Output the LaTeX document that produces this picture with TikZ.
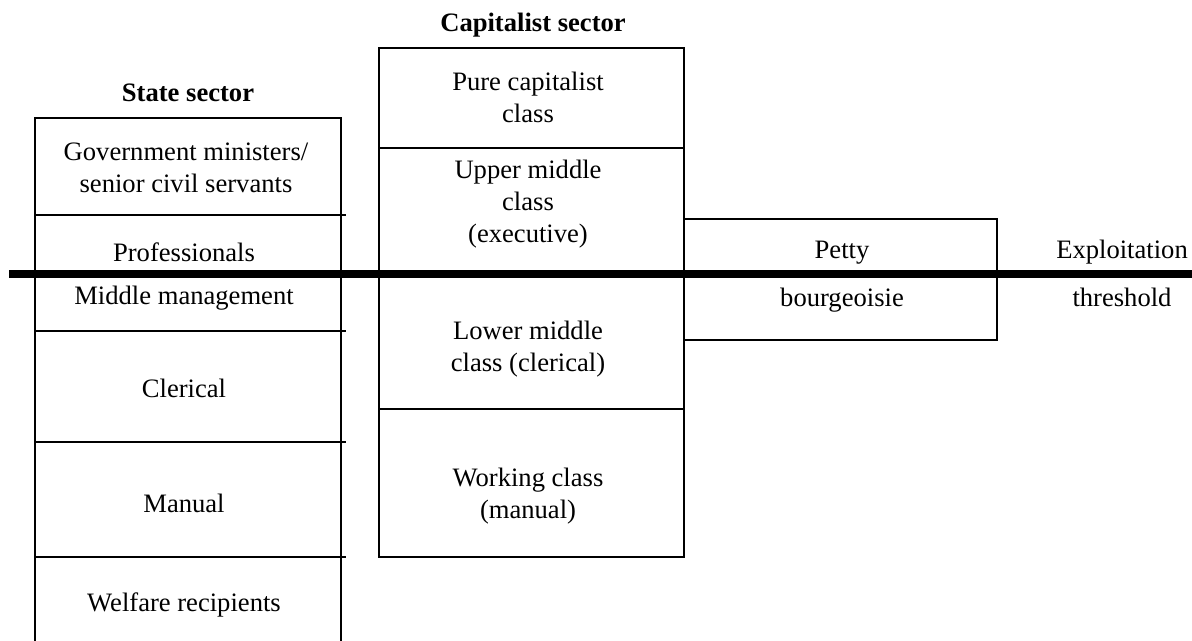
\documentclass[tikz,border=0pt]{standalone}
\usepackage{fontspec}
\setmainfont{Liberation Serif}
\begin{document}
\begin{tikzpicture}[x=0.5pt,y=-0.5pt,
  frame/.style={line width=1pt,line cap=rect},
  thick line/.style={line width=4pt},
  lbl/.style={font=\fontsize{13.3}{16}\selectfont,align=center,inner sep=0pt},
  title/.style={font=\fontsize{13.3}{16}\selectfont\bfseries,inner sep=0pt}]
\useasboundingbox (0,0) rectangle (1192,641);
% State sector column
\draw[frame] (35,641) -- (35,118) -- (341,118) -- (341,641);
\foreach \yy in {215,331,442,557} \draw[frame] (35,\yy) -- (345,\yy);
% Capitalist sector column
\draw[frame] (379,48) rectangle (684,557);
\foreach \yy in {148,409} \draw[frame] (379,\yy) -- (684,\yy);
% Petty bourgeoisie box
\draw[frame] (684,219) rectangle (997,340);
% Exploitation threshold
\coordinate (tl) at (9,274);
\coordinate (tr) at (1192,274);
\draw[thick line] (tl) -- (tr);
% Titles
\node[title] (st) at (188,93) {State sector};
\node[title] (cs) at (533,25) {Capitalist sector};
% State sector labels
\node[lbl] (gov) at (186,167.5) {Government ministers/\\senior civil servants};
\node[lbl] (prof) at (184,252) {Professionals};
\node[lbl] (mid) at (184,298) {Middle management};
\node[lbl] (cler) at (184,388) {Clerical};
\node[lbl] (man) at (184,503) {Manual};
\node[lbl] (wel) at (184,605) {Welfare recipients};
% Capitalist sector labels
\node[lbl] (pure) at (528,97.5) {Pure capitalist\\class};
\node[lbl] (upper) at (528,204.5) {Upper middle\\class\\(executive)};
\node[lbl] (lower) at (528,349) {Lower middle\\class (clerical)};
\node[lbl] (work) at (528,496.5) {Working class\\(manual)};
% Petty bourgeoisie
\node[lbl] (petty) at (842,253) {Petty};
\node[lbl] (bourg) at (842,300) {bourgeoisie};
% Threshold label
\node[lbl] (expl) at (1122,252) {Exploitation};
\node[lbl] (thr) at (1122,297) {threshold};
\end{tikzpicture}
\end{document}
